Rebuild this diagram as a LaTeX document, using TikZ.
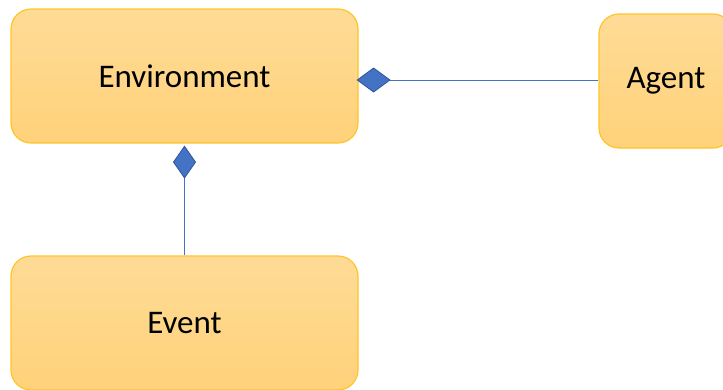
\documentclass[tikz,border=0pt]{standalone}
\usepackage{fontspec}
\setmainfont{Carlito}
\usetikzlibrary{arrows.meta}

\definecolor{boxtop}{RGB}{254,219,150}
\definecolor{boxbottom}{RGB}{255,210,122}
\definecolor{boxedge}{RGB}{255,196,40}
\definecolor{linkblue}{RGB}{68,114,196}
\definecolor{diamondedge}{RGB}{47,85,151}

\tikzset{
  classbox/.style={
    rectangle, rounded corners=20pt, draw=boxedge, line width=1.2pt,
    top color=boxtop, bottom color=boxbottom,
    minimum height=134pt, inner sep=0pt,
    font=\fontsize{33}{39}\selectfont, text=black
  },
  composition/.style={
    draw=linkblue, line width=1pt,
    -{Diamond[length=34pt,width=25pt,fill=linkblue,color=diamondedge,line width=0.8pt]}
  },
  compositionv/.style={
    draw=linkblue, line width=1pt,
    -{Diamond[length=33pt,width=23pt,fill=linkblue,color=diamondedge,line width=0.8pt]}
  }
}

\begin{document}
\begin{tikzpicture}[x=1pt,y=-1pt]
  \useasboundingbox (0,0) rectangle (723,389);

  % class boxes
  \node[classbox, minimum width=347pt] (env)   at (184.5,76)  {Environment};
  \node[classbox, minimum width=134pt] (agent) at (666,81)    {Agent};
  \node[classbox, minimum width=347pt] (event) at (184.5,323) {Event};

  % composition links, diamond at the owning class
  \draw[composition, shorten >=-2pt] ([yshift=1pt]agent.west) -- ([yshift=1pt]env.east |- agent.west);
  \draw[compositionv, shorten >=2pt] (event.north) -- (env.south);
\end{tikzpicture}
\end{document}
